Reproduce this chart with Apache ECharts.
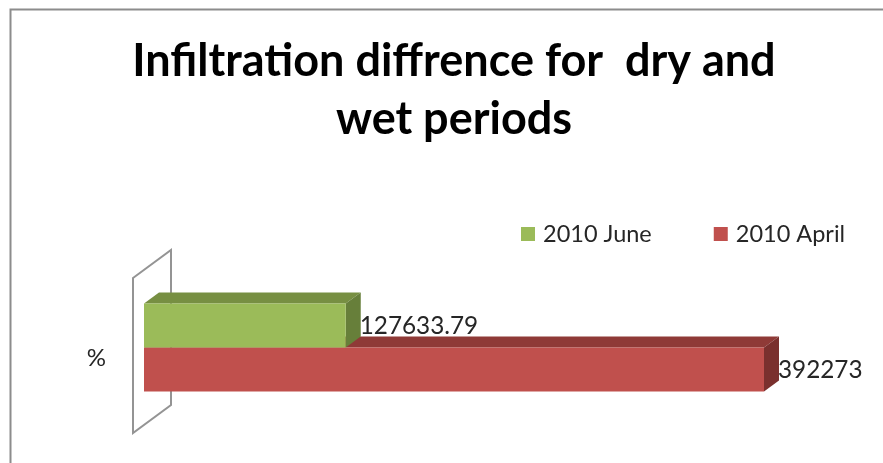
<!DOCTYPE html>
<html><head><meta charset="utf-8">
<style>html,body{margin:0;padding:0;background:#fff}#c{width:883px;height:463px}</style>
<script src="https://cdn.jsdelivr.net/npm/echarts@6/dist/echarts.min.js"></script>
</head><body><div id="c"></div>
<script>
const categories = ['%'];
const juneName = '2010 June';
const aprilName = '2010 April';
const juneValues = [127633.79];
const aprilValues = [392273];
const FONT = 'Lato';

const DX = 15, DY = 11, BAR_H = 44;

function barRenderer(colors, topOffset) {
  return function (params, api) {
    const v = api.value(0);
    const start = api.coord([0, api.value(1)]);
    const end = api.coord([v, api.value(1)]);
    const x0 = start[0], x1 = end[0];
    const y0 = start[1] + topOffset, y1 = y0 + BAR_H;
    return {
      type: 'group',
      children: [
        { type: 'polygon', shape: { points: [[x0, y0], [x0 + DX, y0 - DY], [x1 + DX, y0 - DY], [x1, y0]] }, style: { fill: colors.top } },
        { type: 'polygon', shape: { points: [[x1, y0], [x1 + DX, y0 - DY], [x1 + DX, y1 - DY], [x1, y1]] }, style: { fill: colors.side } },
        { type: 'rect', shape: { x: x0, y: y0, width: x1 - x0, height: BAR_H }, style: { fill: colors.front } },
        { type: 'text', style: { x: x1 + DX - 1, y: (y0 + y1 - DY) / 2 + 6.5, text: String(v), fill: '#262626', font: '24.3px ' + FONT, textAlign: 'left', textVerticalAlign: 'middle' } }
      ]
    };
  };
}

function wallRenderer(params, api) {
  const c = api.coord([0, 0]);
  const h = api.size([0, 1])[1];
  const x = c[0] - 11, top = c[1] - 3 - h / 2, bottom = c[1] - 3 + h / 2;
  return {
    type: 'polygon',
    shape: { points: [[x, top], [x + 38, top - 28], [x + 38, bottom - 28], [x, bottom]] },
    style: { fill: 'none', stroke: '#949494', lineWidth: 2 }
  };
}

const chart = echarts.init(document.getElementById('c'), null, { renderer: 'canvas' });
chart.setOption({
  animation: false,
  backgroundColor: '#ffffff',
  title: {
    text: 'Infiltration diffrence for  dry and\nwet periods',
    left: 449, top: 27, textAlign: 'center',
    textStyle: { fontFamily: FONT, fontWeight: 'bold', fontSize: 45, lineHeight: 58, color: '#000000' }
  },
  legend: {
    left: 516, top: 217, itemWidth: 14, itemHeight: 14, itemGap: 62,
    icon: 'rect',
    data: [juneName, aprilName],
    textStyle: { fontFamily: FONT, fontSize: 23.5, color: '#262626', padding: [0, 0, 0, 3] }
  },
  grid: { left: 144, right: 119, top: 281, height: 155 },
  xAxis: { type: 'value', min: 0, max: aprilValues[0], show: false },
  yAxis: {
    type: 'category', data: categories,
    axisLine: { show: false }, axisTick: { show: false },
    axisLabel: { fontFamily: FONT, fontSize: 24, color: '#262626', margin: 38 }
  },
  graphic: [{
    type: 'polyline', silent: true,
    shape: { points: [[10.5, 463], [10.5, 9.5], [883, 9.5]] },
    style: { fill: 'none', stroke: '#8c8c8c', lineWidth: 2 }
  }],
  series: [
    { type: 'custom', name: 'wall', silent: true, z: 1, renderItem: wallRenderer, data: [[0, 0]], encode: { x: 0, y: 1 } },
    { type: 'custom', name: aprilName, z: 2, itemStyle: { color: '#C0504D' },
      renderItem: barRenderer({ front: '#C0504D', top: '#8F3A37', side: '#7A302E' }, -11),
      data: aprilValues.map((v, i) => [v, i]), encode: { x: 0, y: 1 } },
    { type: 'custom', name: juneName, z: 3, itemStyle: { color: '#9BBB59' },
      renderItem: barRenderer({ front: '#9BBB59', top: '#778F42', side: '#677F3A' }, -55),
      data: juneValues.map((v, i) => [v, i]), encode: { x: 0, y: 1 } }
  ]
});
</script></body></html>
